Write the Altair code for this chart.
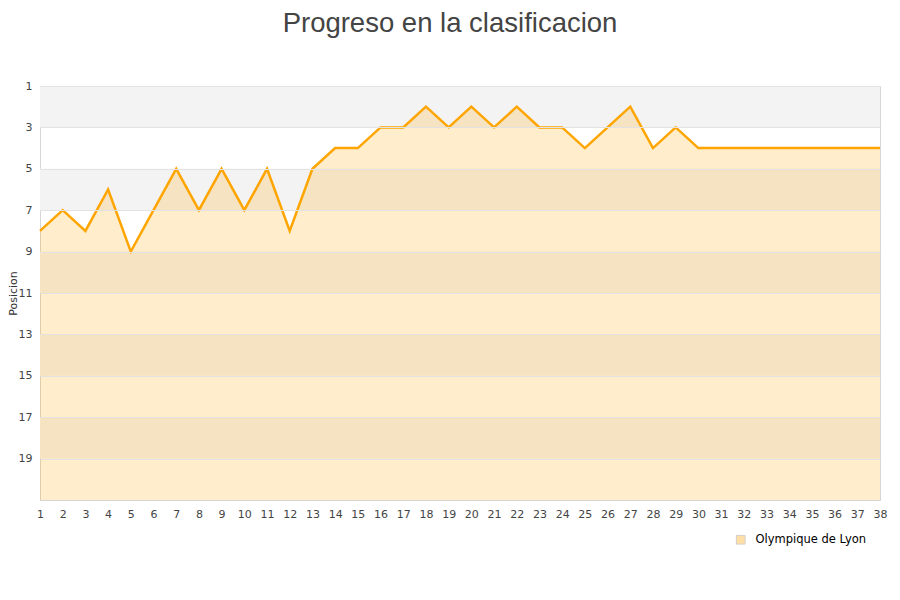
import altair as alt
import pandas as pd

jornadas = list(range(1, 39))
posiciones = [8, 7, 8, 6, 9, 7, 5, 7, 5, 7, 5, 8, 5, 4, 4, 3, 3, 2, 3, 2,
              3, 2, 3, 3, 4, 3, 2, 4, 3, 4, 4, 4, 4, 4, 4, 4, 4, 4]
equipo = "Olympique de Lyon"
band_start = [1, 5, 9, 13, 17]
band_end = [3, 7, 11, 15, 19]
y_ticks = [1, 3, 5, 7, 9, 11, 13, 15, 17, 19]

W, H = 840, 414

df = pd.DataFrame({"jornada": jornadas, "pos": posiciones, "base": [21] * len(jornadas),
                   "equipo": [equipo] * len(jornadas)})
bands = pd.DataFrame({"y1": band_start, "y2": band_end})

yscale = alt.Scale(domain=[1, 21], reverse=True, nice=False, zero=False)
xscale = alt.Scale(domain=[1, 38], nice=False, zero=False)

y_axis = alt.Axis(values=y_ticks, title="Posicion", grid=True, gridColor="#e2e2e2",
                  ticks=False, domain=False, labelPadding=8,
                  titleX=-22, titleY=207, titleAngle=270, titleAlign="center",
                  titleBaseline="bottom", zindex=1)
x_axis = alt.Axis(values=jornadas, title=None, grid=False, ticks=False,
                  domainColor="#d6d6d6", labelPadding=8, labelFlush=False,
                  labelOverlap=False, format="d")

band_layer = alt.Chart(bands).mark_rect(color="#f3f3f3").encode(
    x=alt.value(0), x2=alt.value(W),
    y=alt.Y("y1:Q", scale=yscale, axis=y_axis),
    y2="y2:Q",
)

area = alt.Chart(df).mark_area(opacity=0.2, interpolate="linear").encode(
    x=alt.X("jornada:Q", scale=xscale, axis=x_axis),
    y=alt.Y("pos:Q", scale=yscale, axis=y_axis),
    y2="base:Q",
    color=alt.Color("equipo:N", scale=alt.Scale(range=["#ffa500"]),
                    legend=alt.Legend(title=None, orient="none", legendX=695, legendY=448,
                                      symbolType="square", symbolSize=75, labelOffset=9,
                                      symbolStrokeColor="#8a7a60", symbolStrokeWidth=1,
                                      symbolOpacity=0.35)),
)

line = alt.Chart(df).mark_line(color="#ffa500", strokeWidth=2.5).encode(
    x=alt.X("jornada:Q", scale=xscale, axis=x_axis),
    y=alt.Y("pos:Q", scale=yscale, axis=y_axis),
)

chart = alt.layer(band_layer, area, line).properties(
    width=W, height=H,
    background="white",
    title=alt.TitleParams("Progreso en la clasificacion", fontSize=27.5, font="Liberation Sans",
                          fontWeight="normal", color="#444", anchor="middle", offset=43, dx=-10),
    padding={"left": 32, "top": 78, "right": 10, "bottom": 90},
    autosize=alt.AutoSizeParams(type="none"),
).configure_view(
    stroke="#d6d6d6", strokeWidth=1
).configure_axis(
    labelFontSize=11, labelColor="#444", labelFont="DejaVu Sans",
    titleFont="DejaVu Sans", titleFontSize=11, titleFontWeight="normal", titleColor="#333",
).configure_legend(
    labelFontSize=11.5, labelColor="#000", labelFont="DejaVu Sans",
)

chart.save("out.html", embed_options={"renderer": "svg", "actions": False})
